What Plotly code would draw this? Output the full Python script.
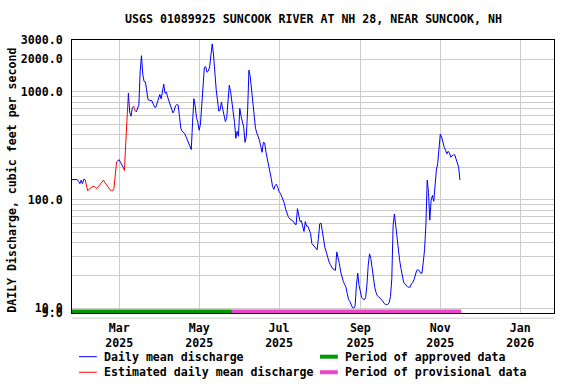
import pandas as pd
import plotly.graph_objects as go

# ---------------- data ----------------
start_date = "2025-01-24"
discharge = [
    154, 154, 154, 154, 154, 148, 141, 152, 141, 155,
    154, 136, 121, 125, 129, 131, 133, 133, 130, 127,
    132, 136, 141, 147, 152, 145, 139, 133, 127, 124,
    122, 121, 127, 172, 224, 232, 235, 222, 212, 200,
    187, 333, 650, 968, 646, 593, 703, 735, 673, 650,
    703, 750, 1520, 2150, 1452, 1240, 1230, 990, 843, 834,
    830, 822, 766, 718, 718, 783, 843, 942, 857, 1021,
    1172, 962, 989, 889, 808, 734, 667, 636, 670, 741,
    760, 750, 593, 459, 431, 415, 410, 383, 356, 334,
    303, 292, 522, 861, 734, 574, 522, 440, 500, 735,
    1030, 1680, 1705, 1510, 1550, 1690, 2180, 2760, 2180, 1420,
    1050, 834, 660, 675, 800, 690, 593, 530, 565, 870,
    1145, 1000, 800, 660, 520, 370, 430, 387, 703, 593,
    522, 470, 340, 387, 675, 1580, 1365, 1010, 735, 570,
    459, 415, 387, 356, 312, 275, 340, 335, 275, 242,
    213, 180, 158, 133, 125, 136, 139, 130, 119, 115,
    108, 101, 93, 82, 74, 70, 67, 66, 65, 63,
    60, 59, 83, 72, 63, 64, 57, 51, 63, 57,
    57, 52, 49, 39.5, 38, 36.5, 36, 34.5, 44, 60,
    61, 50, 40, 36, 33, 28.7, 27, 25.3, 24, 23,
    22.7, 22.3, 33, 30, 25.8, 21.6, 19.2, 17.6, 16.5, 15.6,
    13.6, 12.0, 11.5, 10.8, 10.1, 10.0, 10.5, 16.2, 21, 16.2,
    13.9, 12.5, 12.2, 11.9, 12.5, 16.2, 24.7, 31.7, 28.7, 23.2,
    18, 15.5, 13.9, 13, 12.7, 12.4, 12.1, 11.6, 11.1, 10.8,
    10.8, 10.8, 11.2, 12.8, 18.7, 58, 74, 57, 42, 33,
    27.5, 23.2, 19.2, 17.4, 16.7, 16.0, 15.7, 15.6, 15.6, 16.8,
    17.2, 18.4, 21, 22.3, 22.6, 22.1, 21, 21, 26.4, 34.7,
    58, 152, 117, 65, 99, 110, 97, 142, 188, 216,
    320, 404, 380, 333, 306, 287, 266, 281, 270, 248,
    253, 261, 261, 242, 225, 200, 152,
]
estimated_periods = [("2025-02-04", "2025-02-26"), ("2025-03-05", "2025-03-07"),
                     ("2025-03-12", "2025-03-13")]
approved_period = ("2025-01-24", "2025-05-26")
provisional_period = ("2025-05-26", "2025-11-17")

y_tick_vals = [9, 10, 20, 30, 40, 50, 60, 70, 80, 90,
               100, 200, 300, 400, 500, 600, 700, 800, 900, 1000, 2000, 3000]
y_tick_labels = {9: "9.0", 10: "10.0", 100: "100.0", 1000: "1000.0", 2000: "2000.0", 3000: "3000.0"}

title_text = "USGS 01089925 SUNCOOK RIVER AT NH 28, NEAR SUNCOOK, NH"
y_title = "DAILY Discharge, cubic feet per second"
legend_items = [("Daily mean discharge", "#0000ff", "line"),
                ("Estimated daily mean discharge", "#ff0000", "line"),
                ("Period of approved data", "#009900", "bar"),
                ("Period of provisional data", "#ee44cc", "bar")]

# ---------------- build ----------------
dates = pd.date_range(start_date, periods=len(discharge), freq="D")
est = [False] * len(dates)
for a, b in estimated_periods:
    for i, d in enumerate(dates):
        if pd.Timestamp(a) <= d <= pd.Timestamp(b):
            est[i] = True
n = len(dates)
blue_y = [v if not est[i] else None for i, v in enumerate(discharge)]
red_y = [v if (est[i] or (i > 0 and est[i - 1]) or (i < n - 1 and est[i + 1])) else None
         for i, v in enumerate(discharge)]

FONT = dict(family="DejaVu Sans Mono", size=11.6, color="black", weight="bold")

fig = go.Figure()
fig.add_trace(go.Scatter(x=dates, y=red_y, mode="lines", line=dict(color="#ff0000", width=1),
                         connectgaps=False, showlegend=False, hoverinfo="skip"))
fig.add_trace(go.Scatter(x=dates, y=blue_y, mode="lines", line=dict(color="#0000ff", width=1),
                         connectgaps=False, showlegend=False, hoverinfo="skip"))

shapes = []
# approval status bars at the bottom of the plot
for (a, b), col in [(approved_period, "#009900"), (provisional_period, "#ee44cc")]:
    shapes.append(dict(type="rect", xref="x", yref="paper", x0=a, x1=b, y0=0.0, y1=0.013,
                       fillcolor=col, line=dict(width=0), layer="above"))
# gray strip under the plot
shapes.append(dict(type="line", xref="paper", yref="paper", x0=0, x1=1, y0=-0.019, y1=-0.019,
                   line=dict(color="#cccccc", width=1)))

annotations = [
    dict(text=title_text, xref="paper", yref="paper", x=0.5, y=1.077, xanchor="center",
         yanchor="middle", showarrow=False, font=FONT),
    dict(text=y_title, xref="paper", yref="paper", x=-0.125, y=0.487, xanchor="center",
         yanchor="middle", textangle=-90, showarrow=False, font=FONT),
]
# legend (two columns)
leg_pos = [(0.0145, -0.160), (0.0145, -0.217), (0.5145, -0.160), (0.5145, -0.217)]
for (label, col, kind), (lx, ly) in zip(legend_items, leg_pos):
    if kind == "line":
        shapes.append(dict(type="line", xref="paper", yref="paper", x0=lx, x1=lx + 0.037,
                           y0=ly, y1=ly, line=dict(color=col, width=1)))
    else:
        shapes.append(dict(type="line", xref="paper", yref="paper", x0=lx, x1=lx + 0.037,
                           y0=ly, y1=ly, line=dict(color=col, width=4)))
    annotations.append(dict(text=label, xref="paper", yref="paper", x=lx + 0.048, y=ly,
                            xanchor="left", yanchor="middle", showarrow=False, font=FONT))

fig.update_layout(
    width=576, height=384,
    margin=dict(l=72, r=22, t=40, b=71),
    paper_bgcolor="white", plot_bgcolor="white",
    shapes=shapes, annotations=annotations,
    font=FONT,
)
fig.update_xaxes(
    type="date", range=["2025-01-24", "2026-01-26 18:00"],
    tick0="2025-03-01", dtick="M2", tickformat="%b<br>%Y",
    showgrid=True, gridcolor="#cccccc", gridwidth=1,
    showline=True, linecolor="black", linewidth=1, mirror=True,
    ticks="", tickfont=FONT, ticklabelstandoff=4, zeroline=False,
)
fig.update_yaxes(
    type="log", range=[0.9542425, 3.4771213],
    tickmode="array", tickvals=y_tick_vals,
    ticktext=[y_tick_labels.get(v, "") for v in y_tick_vals],
    showgrid=True, gridcolor="#cccccc", gridwidth=1,
    showline=True, linecolor="black", linewidth=1, mirror=True,
    ticks="", tickfont=FONT, ticklabelstandoff=6, zeroline=False,
)

fig.write_html("out.html")
